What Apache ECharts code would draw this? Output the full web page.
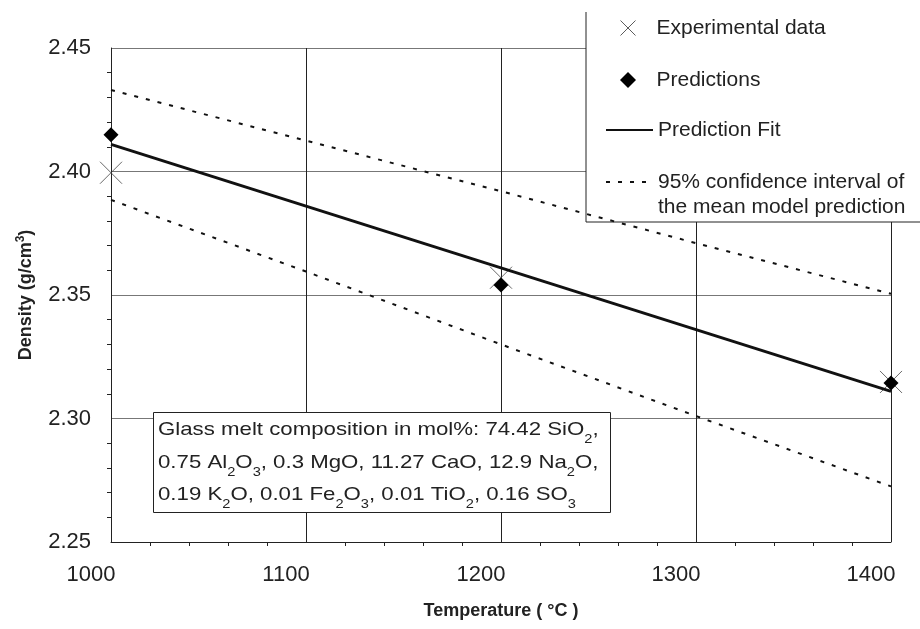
<!DOCTYPE html>
<html>
<head>
<meta charset="utf-8">
<script src="https://cdn.jsdelivr.net/npm/echarts@6/dist/echarts.min.js"></script>
<style>html,body{margin:0;padding:0;background:#fff;}#chart{width:920px;height:629px;}</style>
</head>
<body>
<div id="chart"></div>
<script>
// ---- data ----
const temperatures = [1000, 1200, 1400];
const experimentalDensity = [2.3995, 2.357, 2.3148];
const predictedDensity = [2.4149, 2.354, 2.3144];
const fitTemps = [1000, 1400];
const fitDensity = [2.411, 2.311];
const ciTemps = [1000, 1100, 1200, 1300, 1400];
const ciUpper = [2.433, 2.4125, 2.392, 2.371, 2.3505];
const ciLower = [2.3885, 2.3595, 2.330, 2.301, 2.2725];
const seriesNames = ['Experimental data', 'Predictions', 'Prediction Fit', '95% confidence interval of\nthe mean model prediction'];
const compositionLines = [
  'Glass melt composition in mol%: 74.42 SiO{s|2},',
  '0.75 Al{s|2}O{s|3}, 0.3 MgO, 11.27 CaO, 12.9 Na{s|2}O,',
  '0.19 K{s|2}O, 0.01 Fe{s|2}O{s|3}, 0.01 TiO{s|2}, 0.16 SO{s|3}'
];

const FONT = 'Liberation Sans, Arial, Helvetica, sans-serif';
const pairs = (xs, ys) => xs.map((x, i) => [x, ys[i]]);
const xPath = 'path://M0,0L10,10M10,0L0,10';
const diamondPath = 'path://M5,0L10,5L5,10L0,5Z';

const chart = echarts.init(document.getElementById('chart'), null, {renderer: 'canvas'});

function legendFor(name, top, extra) {
  return Object.assign({
    data: [name], left: 605, top: top, orient: 'vertical', padding: 0,
    itemWidth: 47, itemHeight: 16, itemGap: 0, selectedMode: false, symbolKeepAspect: true,
    textStyle: {fontFamily: FONT, fontSize: 21, color: '#222', lineHeight: 24}
  }, extra || {});
}
const hiddenSymbol = {color: 'transparent', borderColor: 'transparent', borderWidth: 0, opacity: 0};

const option = {
  animation: false,
  backgroundColor: '#fff',
  grid: {left: 111, right: 29, top: 48, bottom: 87, containLabel: false},
  xAxis: {
    type: 'value', min: 1000, max: 1400, interval: 100,
    name: 'Temperature ( °C )', nameLocation: 'middle', nameGap: 60,
    nameTextStyle: {fontFamily: FONT, fontSize: 18, fontWeight: 'bold', color: '#222'},
    axisLine: {show: true, lineStyle: {color: '#222', width: 1}},
    axisTick: {show: false},
    minorTick: {show: true, splitNumber: 5, length: 4, lineStyle: {color: '#222', width: 1}},
    axisLabel: {fontFamily: FONT, fontSize: 22, color: '#222', margin: 22, padding: [0, 40, 0, 0],
      formatter: v => String(v)},
    splitLine: {show: true, lineStyle: {color: '#222', width: 1}}
  },
  yAxis: {
    type: 'value', min: 2.25, max: 2.45, interval: 0.05,
    name: 'Density (g/cm{sup|3})', nameLocation: 'middle', nameGap: 74,
    nameTextStyle: {fontFamily: FONT, fontSize: 18, fontWeight: 'bold', color: '#222', lineHeight: 22,
      rich: {sup: {fontFamily: FONT, fontSize: 12, fontWeight: 'bold', color: '#222', lineHeight: 12, verticalAlign: 'top'}}},
    axisLine: {show: true, lineStyle: {color: '#222', width: 1}},
    axisTick: {show: false},
    minorTick: {show: true, splitNumber: 5, length: 4, lineStyle: {color: '#222', width: 1}},
    axisLabel: {fontFamily: FONT, fontSize: 22, color: '#222', margin: 20, formatter: v => v.toFixed(2)},
    splitLine: {show: true, lineStyle: {color: '#777', width: 1}}
  },
  legend: [
    legendFor(seriesNames[0], 28 - 12, {itemHeight: 15, left: 620,
      data: [{name: seriesNames[0], icon: xPath, itemStyle: {color: 'transparent', borderColor: '#333', borderWidth: 1}}]}),
    legendFor(seriesNames[1], 80 - 12, {left: 620,
      data: [{name: seriesNames[1], icon: diamondPath, itemStyle: {color: '#000'}}]}),
    legendFor(seriesNames[2], 130 - 12, {itemStyle: hiddenSymbol}),
    legendFor(seriesNames[3], 182 - 37.5, {itemStyle: hiddenSymbol,
      formatter: n => ' \n' + n,
      textStyle: {fontFamily: FONT, fontSize: 21, color: '#222', lineHeight: 25}})
  ],
  graphic: {
    elements: [
      {type: 'rect', z: 1, shape: {x: 586, y: -5, width: 340, height: 227}, style: {fill: '#fff', stroke: null}},
      {type: 'polyline', z: 1, shape: {points: [[586, 12], [586, 222], [925, 222]]}, style: {stroke: '#222', lineWidth: 1, fill: null}},
      {type: 'rect', z: 1, shape: {x: 153.5, y: 412.5, width: 457, height: 100}, style: {fill: '#fff', stroke: '#222', lineWidth: 1}},
      {type: 'text', z: 1, x: 158, y: 414, scaleX: 1.17,
        style: {
          text: compositionLines.join('\n'), fontFamily: FONT, fontSize: 19, fill: '#222', lineHeight: 32.5,
          align: 'left', verticalAlign: 'top',
          rich: {s: {fontFamily: FONT, fontSize: 12.5, fill: '#222', lineHeight: 20, verticalAlign: 'bottom'}}
        }}
    ]
  },
  series: [
    {
      name: seriesNames[3], type: 'line', data: pairs(ciTemps, ciUpper), symbol: 'none', z: 2,
      lineStyle: {color: '#111', width: 2, type: [4, 8]}, itemStyle: {color: '#111'}
    },
    {
      name: seriesNames[3], type: 'line', data: pairs(ciTemps, ciLower), symbol: 'none', z: 2,
      lineStyle: {color: '#111', width: 2, type: [4, 8]}, itemStyle: {color: '#111'}
    },
    {
      name: seriesNames[0], type: 'scatter', data: pairs(temperatures, experimentalDensity), clip: false, z: 3,
      symbol: xPath, symbolSize: 22,
      itemStyle: {color: 'transparent', borderColor: '#444', borderWidth: 1}
    },
    {
      name: seriesNames[2], type: 'line', data: pairs(fitTemps, fitDensity), symbol: 'none', z: 4,
      lineStyle: {color: '#111', width: 3}, itemStyle: {color: '#111'}
    },
    {
      name: seriesNames[1], type: 'scatter', data: pairs(temperatures, predictedDensity), clip: false, z: 5,
      symbol: 'diamond', symbolSize: 15, symbolKeepAspect: true, itemStyle: {color: '#000', opacity: 1}
    }
  ]
};
chart.setOption(option);
</script>
</body>
</html>
